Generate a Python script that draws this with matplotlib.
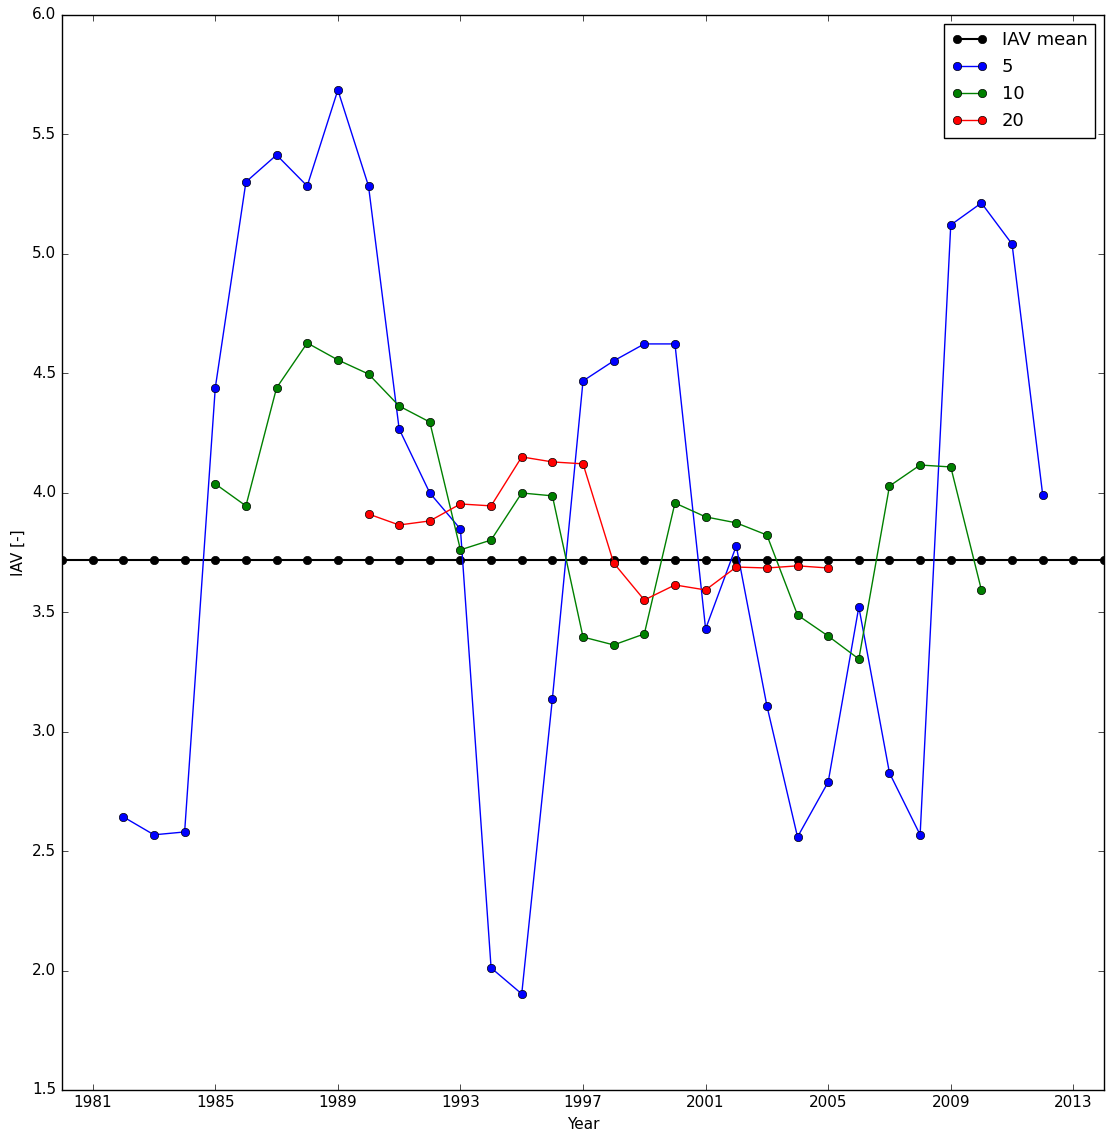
import matplotlib
matplotlib.use('Agg')
import matplotlib.pyplot as plt

plt.style.use('classic')
plt.rcParams['font.size'] = 11

iav_mean = 3.72
mean_years = list(range(1980, 2015))

years_5 = list(range(1982, 2013))
iav_5 = [2.643, 2.568, 2.580, 4.439, 5.301, 5.414, 5.284, 5.686, 5.284, 4.267,
         3.999, 3.848, 2.011, 1.902, 3.137, 4.468, 4.552, 4.623, 4.623, 3.430,
         3.777, 3.108, 2.559, 2.789, 3.522, 2.827, 2.568, 5.121, 5.213, 5.041,
         3.991]

years_10 = list(range(1985, 2011))
iav_10 = [4.037, 3.945, 4.439, 4.627, 4.556, 4.497, 4.363, 4.296, 3.761, 3.802,
          3.999, 3.987, 3.396, 3.363, 3.409, 3.957, 3.899, 3.874, 3.823, 3.488,
          3.400, 3.304, 4.028, 4.116, 4.108, 3.593]

years_20 = list(range(1990, 2006))
iav_20 = [3.911, 3.865, 3.882, 3.953, 3.945, 4.150, 4.129, 4.121, 3.706, 3.551,
          3.614, 3.593, 3.689, 3.685, 3.694, 3.685]

xtick_years = list(range(1981, 2014, 4))
ytick_vals = [1.5, 2.0, 2.5, 3.0, 3.5, 4.0, 4.5, 5.0, 5.5, 6.0]

fig = plt.figure(figsize=(11.12, 11.35), dpi=100, facecolor='white')
ax = fig.add_axes([0.0558, 0.0397, 0.937, 0.9471])

ax.plot(mean_years, [iav_mean] * len(mean_years), 'k-o', linewidth=1.5,
        markersize=6, label='IAV mean')
ax.plot(years_5, iav_5, 'b-o', linewidth=1, markersize=6, label='5')
ax.plot(years_10, iav_10, 'g-o', linewidth=1, markersize=6, label='10')
ax.plot(years_20, iav_20, 'r-o', linewidth=1, markersize=6, label='20')

ax.set_xlim(1980, 2014)
ax.set_ylim(1.5, 6.0)
ax.set_xticks(xtick_years)
ax.set_xticklabels([str(y) for y in xtick_years])
ax.set_yticks(ytick_vals)
ax.set_yticklabels(['%.1f' % v for v in ytick_vals])
ax.set_xlabel('Year')
ax.set_ylabel('IAV [-]')
ax.legend(loc='upper right', fontsize=13, numpoints=2)

fig.savefig('out.png', dpi=100, facecolor='white')
